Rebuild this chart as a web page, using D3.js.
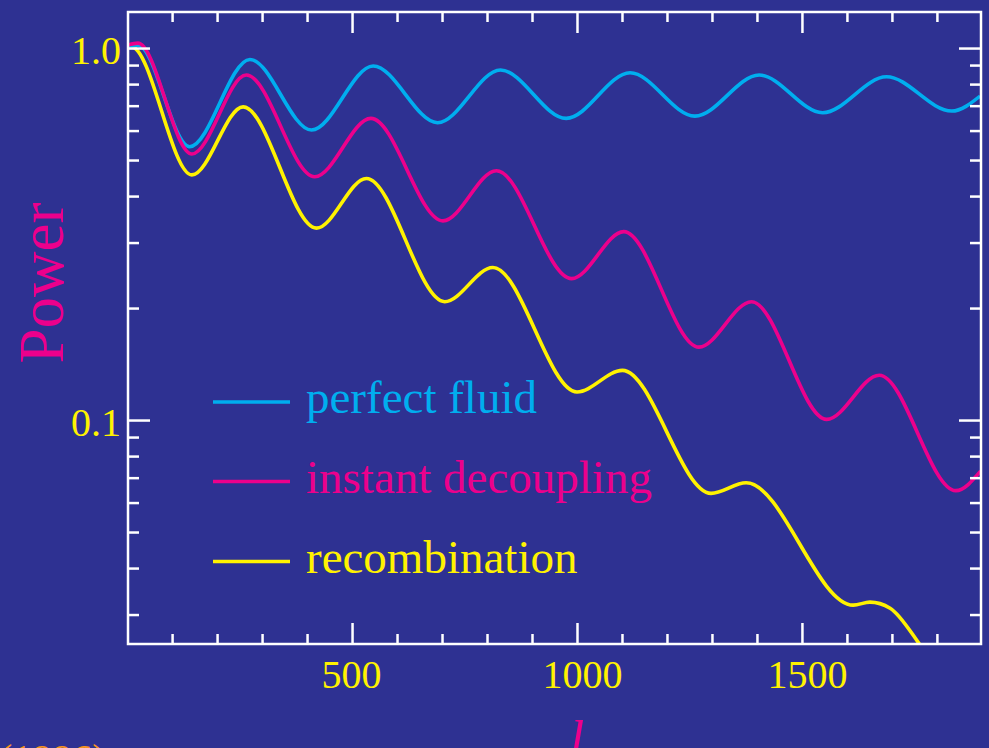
<!DOCTYPE html>
<html>
<head>
<meta charset="utf-8">
<script src="https://cdn.jsdelivr.net/npm/d3@7"></script>
<style>
  html, body { margin: 0; padding: 0; background: #2e3192; overflow: hidden; }
  svg { display: block; }
</style>
</head>
<body>
<svg id="chart" width="989" height="748"></svg>
<script>
// ---- data: power spectrum vs multipole l, normalised to 1 at low l ----
// peaks, troughs and a few shape points of each curve
const seriesNames  = ["perfect fluid", "instant decoupling", "recombination"];
const seriesColors = ["#00aeef", "#ec008c", "#fff200"];

const perfectL = [2, 24, 139, 273, 410, 547, 690, 830, 976, 1118, 1262, 1405, 1546, 1688, 1833, 1896];
const perfectP = [1.006, 1.018, 0.543, 0.932, 0.602, 0.895, 0.630, 0.873, 0.647, 0.858, 0.656, 0.846, 0.670, 0.837, 0.677, 0.743];

const decouplingL = [2, 24, 144, 265, 417, 542, 702, 821, 988, 1104, 1271, 1388, 1555, 1672, 1842, 1897];
const decouplingP = [1.019, 1.031, 0.519, 0.846, 0.451, 0.647, 0.343, 0.468, 0.240, 0.321, 0.157, 0.208, 0.1004, 0.132, 0.0646, 0.0729];

const recombL = [2, 9, 144, 258, 421, 532, 706, 813, 1000, 1101, 1298, 1376, 1614, 1651, 1696, 1758, 1796];
const recombP = [1.006, 1.009, 0.456, 0.695, 0.328, 0.446, 0.208, 0.257, 0.119, 0.136, 0.0635, 0.0678, 0.0318, 0.0324, 0.0312, 0.0253, 0.0216];

// ---- axis ticks ----
const xMajor = [500, 1000, 1500];
const xMajorLabels = ["500", "1000", "1500"];
const xMinor = [100, 200, 300, 400, 600, 700, 800, 900, 1100, 1200, 1300, 1400, 1600, 1700, 1800];
const yMajor = [0.1, 1.0];
const yMajorLabels = ["0.1", "1.0"];
const yMinor = [0.03, 0.04, 0.05, 0.06, 0.07, 0.08, 0.09, 0.2, 0.3, 0.4, 0.5, 0.6, 0.7, 0.8, 0.9];

const xDomain = [2, 1898];
const yDomain = [0.025, 1.25];

// ---- layout ----
const W = 989, H = 748;
const plot = { left: 128, right: 981, top: 12, bottom: 644 };
const bg = "#2e3192";
const tickColor = "#ffffff";
const labelYellow = "#fff200";
const magenta = "#ec008c";
const serif = "'Liberation Serif', 'Times New Roman', Times, serif";

const svg = d3.select("#chart");
svg.append("rect").attr("width", W).attr("height", H).attr("fill", bg);

const x = d3.scaleLinear().domain(xDomain).range([plot.left, plot.right]);
const y = d3.scaleLog().domain(yDomain).range([plot.bottom, plot.top]);

// clip for curves
svg.append("defs").append("clipPath").attr("id", "plotClip")
  .append("rect")
  .attr("x", plot.left).attr("y", plot.top)
  .attr("width", plot.right - plot.left).attr("height", plot.bottom - plot.top);

// ---- curves ----
const series = [
  { name: seriesNames[0], color: seriesColors[0], l: perfectL, p: perfectP },
  { name: seriesNames[1], color: seriesColors[1], l: decouplingL, p: decouplingP },
  { name: seriesNames[2], color: seriesColors[2], l: recombL, p: recombP }
];

// monotone interpolation keeps the extrema flat, giving smooth oscillations
const line = d3.line()
  .x(d => x(d[0]))
  .y(d => y(d[1]))
  .curve(d3.curveMonotoneX);

const curves = svg.append("g").attr("clip-path", "url(#plotClip)");
// draw bottom-most first so that the upper curves overlap at the start
[2, 0, 1].forEach(i => {
  const s = series[i];
  curves.append("path")
    .datum(s.l.map((l, k) => [l, s.p[k]]))
    .attr("fill", "none")
    .attr("stroke", s.color)
    .attr("stroke-width", 3.6)
    .attr("stroke-linejoin", "round")
    .attr("d", line);
});

// ---- axes (ticks pointing inward) ----
function styleAxis(g) {
  g.select(".domain").remove();
  g.selectAll(".tick line").attr("stroke", tickColor).attr("stroke-width", 2.5);
  g.attr("font-family", serif).attr("font-size", 40);
  g.selectAll(".tick text").attr("fill", labelYellow);
}

// bottom
svg.append("g")
  .attr("transform", `translate(0,${plot.bottom})`)
  .call(d3.axisBottom(x).tickValues(xMajor).tickSize(-21).tickPadding(16)
    .tickFormat((d, i) => xMajorLabels[i]))
  .call(styleAxis)
  .call(g => g.selectAll(".tick text").attr("dx", d => d >= 1000 ? 5 : -1));
svg.append("g")
  .attr("transform", `translate(0,${plot.bottom})`)
  .call(d3.axisBottom(x).tickValues(xMinor).tickSize(-10).tickFormat(""))
  .call(styleAxis);

// top
svg.append("g")
  .attr("transform", `translate(0,${plot.top})`)
  .call(d3.axisTop(x).tickValues(xMajor).tickSize(-21).tickFormat(""))
  .call(styleAxis);
svg.append("g")
  .attr("transform", `translate(0,${plot.top})`)
  .call(d3.axisTop(x).tickValues(xMinor).tickSize(-10).tickFormat(""))
  .call(styleAxis);

// left
svg.append("g")
  .attr("transform", `translate(${plot.left},0)`)
  .call(d3.axisLeft(y).tickValues(yMajor).tickSize(-22).tickPadding(7)
    .tickFormat((d, i) => yMajorLabels[i]))
  .call(styleAxis)
  .call(g => g.selectAll(".tick text").attr("dy", "0.38em"));
svg.append("g")
  .attr("transform", `translate(${plot.left},0)`)
  .call(d3.axisLeft(y).tickValues(yMinor).tickSize(-11).tickFormat(""))
  .call(styleAxis);

// right
svg.append("g")
  .attr("transform", `translate(${plot.right},0)`)
  .call(d3.axisRight(y).tickValues(yMajor).tickSize(-22).tickFormat(""))
  .call(styleAxis);
svg.append("g")
  .attr("transform", `translate(${plot.right},0)`)
  .call(d3.axisRight(y).tickValues(yMinor).tickSize(-11).tickFormat(""))
  .call(styleAxis);

// frame
svg.append("rect")
  .attr("x", plot.left).attr("y", plot.top)
  .attr("width", plot.right - plot.left).attr("height", plot.bottom - plot.top)
  .attr("fill", "none").attr("stroke", tickColor).attr("stroke-width", 2.5);

// ---- axis titles ----
svg.append("text")
  .attr("transform", "translate(63,283) rotate(-90)")
  .attr("text-anchor", "middle")
  .attr("font-family", serif).attr("font-size", 63)
  .attr("fill", magenta)
  .text("Power");

svg.append("text")
  .attr("x", 577).attr("y", 757)
  .attr("text-anchor", "middle")
  .attr("font-family", serif).attr("font-size", 52).attr("font-style", "italic")
  .attr("fill", magenta)
  .text("l");

svg.append("text")
  .attr("x", -1).attr("y", 772)
  .attr("font-family", serif).attr("font-size", 40)
  .attr("fill", "#f7941d")
  .text("(1996)");

// ---- legend ----
const legend = svg.append("g");
const legendRows = [402, 481.5, 561.5];
series.forEach((s, i) => {
  const ly = legendRows[i];
  legend.append("line")
    .attr("x1", 213).attr("x2", 290)
    .attr("y1", ly).attr("y2", ly)
    .attr("stroke", s.color).attr("stroke-width", 3.6);
  legend.append("text")
    .attr("x", 306).attr("y", ly + 11)
    .attr("font-family", serif).attr("font-size", 47)
    .attr("fill", s.color)
    .text(s.name);
});
</script>
</body>
</html>
